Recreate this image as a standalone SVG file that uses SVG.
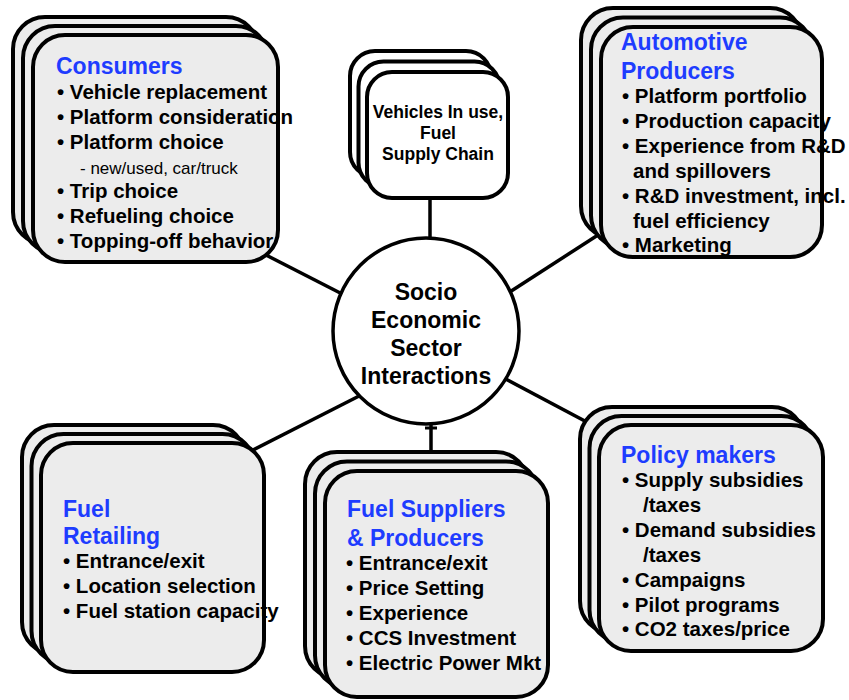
<svg xmlns="http://www.w3.org/2000/svg" width="849" height="700" viewBox="0 0 849 700">
  <style>
    .card { fill: #ececec; stroke: #000; stroke-width: 4; }
    .card.plain { fill: #ffffff; }
    .link { stroke: #000; stroke-width: 3.5; fill: none; }
    .hub { fill: #ffffff; stroke: #000; stroke-width: 3.5; }
    text { font-family: "Liberation Sans", Arial, Helvetica, sans-serif; }
    .head { font-weight: bold; font-size: 23px; fill: #1e3cff; }
    .item { font-weight: bold; font-size: 20.5px; fill: #000; }
    .sub { font-size: 17px; fill: #000; }
    .hubtxt { font-weight: bold; font-size: 23px; fill: #000; text-anchor: middle; }
    .vtxt { font-weight: bold; font-size: 17.5px; fill: #000; text-anchor: middle; }
  </style>

  <!-- connectors between the hub and the sector cards -->
  <g id="connectors">
    <line class="link" x1="430" y1="190" x2="430" y2="245"/>
    <line class="link" x1="262" y1="253" x2="350" y2="298"/>
    <line class="link" x1="505" y1="295" x2="598" y2="235"/>
    <line class="link" x1="245" y1="454" x2="365" y2="393"/>
    <line class="link" x1="500" y1="376" x2="615" y2="437"/>
    <line class="link" x1="431" y1="420" x2="431" y2="456"/>
    <rect x="425" y="426.5" width="12" height="3" fill="#000"/>
  </g>

  <!-- central hub -->
  <g id="hub">
    <circle class="hub" cx="426" cy="331" r="93"/>
    <text class="hubtxt" x="426" y="300">Socio</text>
    <text class="hubtxt" x="426" y="328">Economic</text>
    <text class="hubtxt" x="426" y="356">Sector</text>
    <text class="hubtxt" x="426" y="384">Interactions</text>
  </g>

  <!-- Consumers -->
  <g id="consumers">
    <rect class="card" x="13" y="17" width="245" height="227" rx="32"/>
    <rect class="card" x="23" y="26" width="245" height="227" rx="32"/>
    <rect class="card" x="33" y="35" width="245" height="227" rx="32"/>
    <text class="head" x="56" y="74">Consumers</text>
    <text class="item" x="57" y="99">• Vehicle replacement</text>
    <text class="item" x="57" y="124">• Platform consideration</text>
    <text class="item" x="57" y="149">• Platform choice</text>
    <text class="sub" x="80" y="174">- new/used, car/truck</text>
    <text class="item" x="57" y="198">• Trip choice</text>
    <text class="item" x="57" y="223">• Refueling choice</text>
    <text class="item" x="57" y="248">• Topping-off behavior</text>
  </g>

  <!-- Vehicles in use / fuel supply chain -->
  <g id="vehicles">
    <rect class="card plain" x="350" y="51" width="141" height="126" rx="25"/>
    <rect class="card plain" x="358.5" y="61.5" width="141" height="126" rx="25"/>
    <rect class="card plain" x="367" y="72" width="141" height="126" rx="25"/>
    <text class="vtxt" x="438" y="118">Vehicles In use,</text>
    <text class="vtxt" x="438" y="139">Fuel</text>
    <text class="vtxt" x="438" y="160">Supply Chain</text>
  </g>

  <!-- Automotive producers -->
  <g id="automotive">
    <rect class="card" x="581" y="8" width="221" height="230" rx="32"/>
    <rect class="card" x="591" y="17.5" width="221" height="230" rx="32"/>
    <rect class="card" x="601" y="27" width="221" height="230" rx="32"/>
    <text class="head" x="621" y="50">Automotive</text>
    <text class="head" x="621" y="79">Producers</text>
    <text class="item" x="622" y="103">• Platform portfolio</text>
    <text class="item" x="622" y="128">• Production capacity</text>
    <text class="item" x="622" y="153">• Experience from R&amp;D</text>
    <text class="item" x="633" y="178">and spillovers</text>
    <text class="item" x="622" y="203">• R&amp;D investment, incl.</text>
    <text class="item" x="633" y="228">fuel efficiency</text>
    <text class="item" x="622" y="252">• Marketing</text>
  </g>

  <!-- Fuel retailing -->
  <g id="retailing">
    <rect class="card" x="22" y="425" width="223" height="229" rx="32"/>
    <rect class="card" x="31.5" y="434" width="223" height="229" rx="32"/>
    <rect class="card" x="41" y="443" width="223" height="229" rx="32"/>
    <text class="head" x="63" y="517">Fuel</text>
    <text class="head" x="63" y="544">Retailing</text>
    <text class="item" x="63" y="568">• Entrance/exit</text>
    <text class="item" x="63" y="593">• Location selection</text>
    <text class="item" x="63" y="618">• Fuel station capacity</text>
  </g>

  <!-- Fuel suppliers and producers -->
  <g id="suppliers">
    <rect class="card" x="305" y="452" width="223" height="226" rx="32"/>
    <rect class="card" x="315" y="461.5" width="223" height="226" rx="32"/>
    <rect class="card" x="325" y="471" width="223" height="226" rx="32"/>
    <text class="head" x="347" y="517">Fuel Suppliers</text>
    <text class="head" x="347" y="546">&amp; Producers</text>
    <text class="item" x="346" y="570">• Entrance/exit</text>
    <text class="item" x="346" y="595">• Price Setting</text>
    <text class="item" x="346" y="620">• Experience</text>
    <text class="item" x="346" y="645">• CCS Investment</text>
    <text class="item" x="346" y="670">• Electric Power Mkt</text>
  </g>

  <!-- Policy makers -->
  <g id="policy">
    <rect class="card" x="580" y="407" width="224" height="226" rx="32"/>
    <rect class="card" x="589.5" y="416" width="224" height="226" rx="32"/>
    <rect class="card" x="599" y="425" width="224" height="226" rx="32"/>
    <text class="head" x="621" y="463">Policy makers</text>
    <text class="item" x="622" y="487">• Supply subsidies</text>
    <text class="item" x="643" y="512">/taxes</text>
    <text class="item" x="622" y="537">• Demand subsidies</text>
    <text class="item" x="643" y="562">/taxes</text>
    <text class="item" x="622" y="587">• Campaigns</text>
    <text class="item" x="622" y="612">• Pilot programs</text>
    <text class="item" x="622" y="636">• CO2 taxes/price</text>
  </g>
</svg>
